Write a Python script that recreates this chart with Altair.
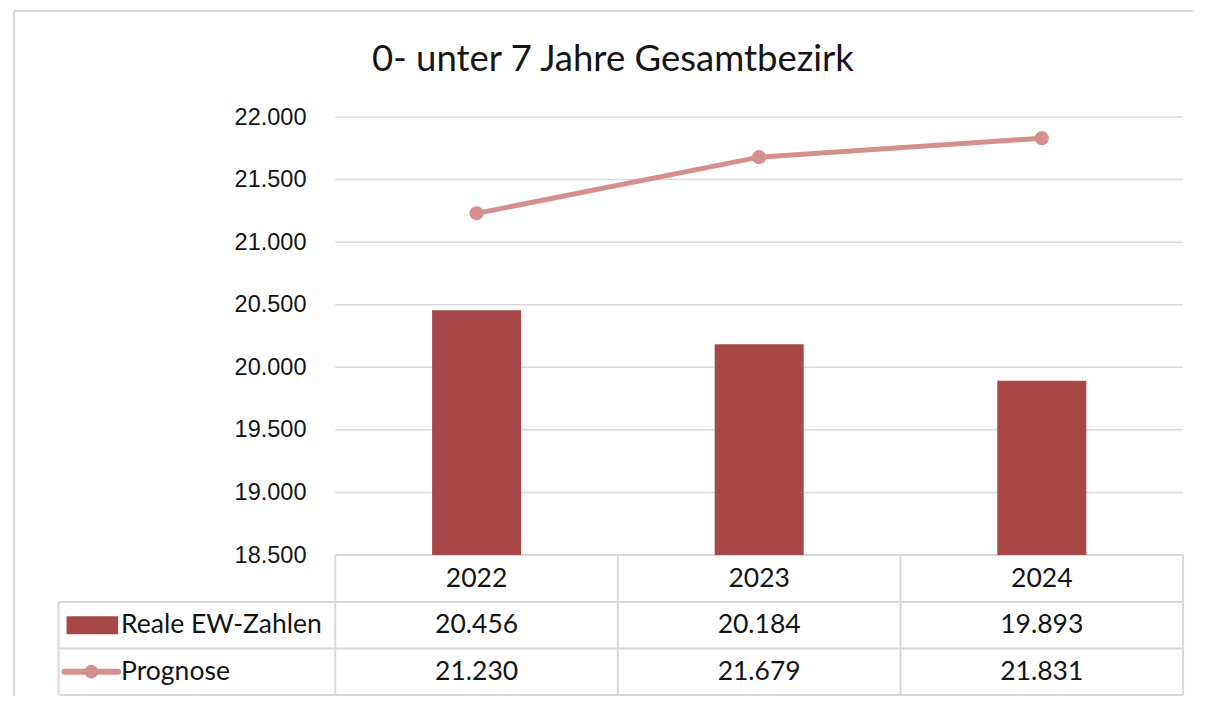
import altair as alt
import pandas as pd
import numpy as np

# ---------------- data ----------------
title_text = "0- unter 7 Jahre Gesamtbezirk"
years = ["2022", "2023", "2024"]
reale = [20456, 20184, 19893]
prognose = [21230, 21679, 21831]
series_names = ["Reale EW-Zahlen", "Prognose"]
y_ticks = [18500, 19000, 19500, 20000, 20500, 21000, 21500, 22000]

# ---------------- styles ----------------
BAR_COLOR = "#A84747"
LINE_COLOR = "#D4908E"
GRID = "#D9D9D9"
TXT = "#141414"
TABLE_FONT = "Lato"
AXIS_FONT = "Liberation Sans"

# ---------------- layout (page pixels) ----------------
W, H = 1190, 688
PLOT_L, PLOT_R = 333, 1188
Y_TOP_PX, Y_BASE_PX = 117, 555
Y_MIN, Y_MAX = y_ticks[0], y_ticks[-1]
LABEL_COL_L = 54
ROW_LINES = [555, 602, 648.5, 695]
col_w = (PLOT_R - PLOT_L) / 3
upx = (Y_MAX - Y_MIN) / (Y_BASE_PX - Y_TOP_PX)


def px_x(p):
    return (p - PLOT_L) / col_w


def px_y(p):
    return Y_MAX - (p - Y_TOP_PX) * upx


x_scale = alt.Scale(domain=[px_x(8), px_x(8 + W)], nice=False, zero=False)
y_scale = alt.Scale(domain=[px_y(8 + H), px_y(8)], nice=False, zero=False)

fmt = lambda v: f"{v:,}".replace(",", ".")

# ---------------- tables ----------------
df = pd.DataFrame({
    "year": years,
    "xc": np.arange(len(years)) + 0.5,
    "reale": reale,
    "prognose": prognose,
})

rules = []
for t in y_ticks[1:]:
    rules.append(dict(x=0, x2=3, y=t, y2=t, w=1.5))
rules.append(dict(x=0, x2=3, y=px_y(ROW_LINES[0]), y2=px_y(ROW_LINES[0]), w=2))
for r in ROW_LINES[1:]:
    rules.append(dict(x=px_x(LABEL_COL_L), x2=3, y=px_y(r), y2=px_y(r), w=2))
rules.append(dict(x=px_x(LABEL_COL_L), x2=px_x(LABEL_COL_L),
                  y=px_y(ROW_LINES[1]), y2=px_y(ROW_LINES[-1]), w=2))
for c in range(4):
    rules.append(dict(x=c, x2=c, y=px_y(ROW_LINES[0]), y2=px_y(ROW_LINES[-1]), w=2))
rules.append(dict(x=px_x(9), x2=px_x(9), y=px_y(11), y2=px_y(8 + H), w=2))
rules.append(dict(x=px_x(9), x2=px_x(8 + W), y=px_y(11), y2=px_y(11), w=2))
rules_df = pd.DataFrame(rules)

row_mid = [(ROW_LINES[i] + ROW_LINES[i + 1]) / 2 for i in range(3)]

center_txt = []
for i, yr in enumerate(years):
    center_txt.append(dict(x=i + 0.5, y=px_y(row_mid[0]), t=yr))
    center_txt.append(dict(x=i + 0.5, y=px_y(row_mid[1]), t=fmt(reale[i])))
    center_txt.append(dict(x=i + 0.5, y=px_y(row_mid[2]), t=fmt(prognose[i])))
center_df = pd.DataFrame(center_txt)

label_df = pd.DataFrame([
    dict(x=px_x(117), y=px_y(row_mid[1]), t=series_names[0]),
    dict(x=px_x(117), y=px_y(row_mid[2]), t=series_names[1]),
])

title_df = pd.DataFrame([dict(x=px_x(613), y=px_y(60), t=title_text)])

key_bar_df = pd.DataFrame([dict(x=px_x(62), x2=px_x(114),
                                y=px_y(row_mid[1] - 9), y2=px_y(row_mid[1] + 9))])
key_line_df = pd.DataFrame([dict(x=px_x(60), x2=px_x(114),
                                 y=px_y(row_mid[2]), xc=px_x(87))])

y_axis = alt.Axis(
    values=y_ticks, offset=-(PLOT_L - 8), domain=False, ticks=False, tickSize=0,
    grid=False, labelPadding=27, labelFont=AXIS_FONT, labelFontSize=23.5,
    labelColor=TXT, title=None, labelOverlap=False, labelBound=False,
    labelExpr="replace(format(datum.value, ',.0f'), ',', '.')",
)

X = lambda f: alt.X(f"{f}:Q", scale=x_scale, axis=None)
Y = lambda f: alt.Y(f"{f}:Q", scale=y_scale, axis=y_axis)

grid_layer = alt.Chart(rules_df).mark_rule(color=GRID).encode(
    x=X("x"), x2="x2", y=Y("y"), y2="y2",
    strokeWidth=alt.StrokeWidth("w:Q", scale=None),
)

bars = alt.Chart(df).mark_bar(color=BAR_COLOR, width=89).encode(
    x=X("xc"), y=Y("reale"), y2=alt.datum(Y_MIN),
)

line = alt.Chart(df).mark_line(color=LINE_COLOR, strokeWidth=5).encode(
    x=X("xc"), y=Y("prognose"))
pts = alt.Chart(df).mark_circle(color=LINE_COLOR, size=200, opacity=1).encode(
    x=X("xc"), y=Y("prognose"))

center_layer = alt.Chart(center_df).mark_text(
    font=TABLE_FONT, fontSize=26.5, color=TXT, align="center", baseline="middle"
).encode(x=X("x"), y=Y("y"), text="t:N")

label_layer = alt.Chart(label_df).mark_text(
    font=TABLE_FONT, fontSize=26.5, color=TXT, align="left", baseline="middle"
).encode(x=X("x"), y=Y("y"), text="t:N")

title_layer = alt.Chart(title_df).mark_text(
    font=TABLE_FONT, fontSize=36.5, color=TXT, align="center", baseline="middle"
).encode(x=X("x"), y=Y("y"), text="t:N")

key_bar = alt.Chart(key_bar_df).mark_rect(color=BAR_COLOR).encode(
    x=X("x"), x2="x2", y=Y("y"), y2="y2")
key_line = alt.Chart(key_line_df).mark_rule(
    color=LINE_COLOR, strokeWidth=6, strokeCap="round"
).encode(x=X("x"), x2="x2", y=Y("y"))
key_pt = alt.Chart(key_line_df).mark_circle(
    color=LINE_COLOR, size=190, opacity=1
).encode(x=X("xc"), y=Y("y"))

chart = alt.layer(
    grid_layer, bars, line, pts, center_layer, label_layer, title_layer,
    key_bar, key_line, key_pt,
).properties(
    width=W, height=H, autosize=alt.AutoSizeParams(type="none"), padding=0,
    background="white",
).configure_view(stroke=None)

chart.save("out.html", embed_options={"renderer": "svg", "actions": False})
